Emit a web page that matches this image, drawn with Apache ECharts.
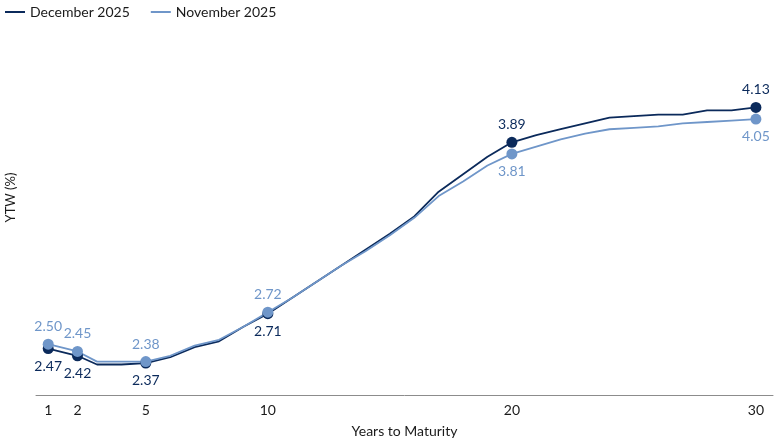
<!DOCTYPE html>
<html>
<head>
<meta charset="utf-8">
<script src="https://cdn.jsdelivr.net/npm/echarts@6/dist/echarts.min.js"></script>
<style>
html,body{margin:0;padding:0;background:#fff;}
#chart{width:780px;height:440px;}
</style>
</head>
<body>
<div id="chart"></div>
<script>
// Years to maturity (x positions)
var maturities = [1, 2.2, 3, 4, 5, 6, 7, 8, 9, 10, 11, 12, 13, 14, 15, 16, 17, 18, 19, 20, 21, 22, 23, 24, 25, 26, 27, 28, 29, 30];
var december2025 = [2.47, 2.42, 2.36, 2.36, 2.37, 2.41, 2.48, 2.52, 2.62, 2.71, 2.82, 2.93, 3.04, 3.15, 3.26, 3.38, 3.55, 3.67, 3.79, 3.89, 3.94, 3.98, 4.02, 4.06, 4.07, 4.08, 4.08, 4.11, 4.11, 4.13];
var november2025 = [2.50, 2.45, 2.38, 2.38, 2.38, 2.42, 2.49, 2.53, 2.62, 2.72, 2.82, 2.93, 3.04, 3.14, 3.25, 3.37, 3.52, 3.62, 3.73, 3.81, 3.86, 3.91, 3.95, 3.98, 3.99, 4.00, 4.02, 4.03, 4.04, 4.05];
// Labelled maturities (tick positions) and their tick labels
var tickValues = [1, 2.2, 5, 10, 20, 30];
var tickLabels = ['1', '2', '5', '10', '20', '30'];
var seriesNames = ['December 2025', 'November 2025'];

var DARK = '#0b2a5b';
var LIGHT = '#6f96c9';
var FONT = 'Lato';

function linePoints(vals) {
  return maturities.map(function (m, i) { return [m, vals[i]]; });
}
function markerPoints(vals, other) {
  var out = [];
  maturities.forEach(function (m, i) {
    if (tickValues.indexOf(m) >= 0) {
      var above = vals[i] >= other[i];
      out.push({ value: [m, vals[i]], label: { position: above ? 'top' : 'bottom' } });
    }
  });
  return out;
}

var chart = echarts.init(document.getElementById('chart'), null, { renderer: 'canvas' });
chart.setOption({
  animation: false,
  textStyle: { fontFamily: FONT },
  legend: {
    left: 0, top: 0,
    icon: 'rect', itemWidth: 20, itemHeight: 2, itemGap: 21,
    textStyle: { fontSize: 14, color: '#1a1a1a', fontFamily: FONT },
    data: seriesNames
  },
  grid: { left: 36, right: 7, top: 0, bottom: 45, containLabel: false, outerBoundsMode: 'none' },
  xAxis: {
    type: 'value',
    min: 0.5, max: 30.7,
    name: 'Years to Maturity',
    nameLocation: 'middle',
    nameGap: 29,
    nameTextStyle: { fontSize: 14, color: '#1a1a1a', fontFamily: FONT },
    axisLine: { show: true, lineStyle: { color: '#8c8c8c', width: 1 } },
    axisTick: { show: false, customValues: tickValues },
    splitLine: { show: false },
    axisLabel: {
      customValues: tickValues,
      fontSize: 14, color: '#1a1a1a', fontFamily: FONT, margin: 8,
      formatter: function (v) {
        var k = tickValues.indexOf(v);
        return k >= 0 ? tickLabels[k] : '';
      }
    }
  },
  yAxis: {
    type: 'value',
    min: 2.15, max: 4.87,
    name: 'YTW (%)',
    nameLocation: 'middle',
    nameGap: 19,
    nameTextStyle: { fontSize: 13, color: '#1a1a1a', fontFamily: FONT },
    axisLine: { show: false },
    axisTick: { show: false },
    axisLabel: { show: false },
    splitLine: { show: false }
  },
  series: [
    {
      name: seriesNames[0], type: 'line', data: linePoints(december2025),
      showSymbol: false, symbol: 'none',
      lineStyle: { color: DARK, width: 1.8 }, itemStyle: { color: DARK },
      z: 2
    },
    {
      name: seriesNames[1], type: 'line', data: linePoints(november2025),
      showSymbol: false, symbol: 'none',
      lineStyle: { color: LIGHT, width: 1.8 }, itemStyle: { color: LIGHT },
      z: 3
    },
    {
      name: seriesNames[0], type: 'scatter', data: markerPoints(december2025, november2025),
      symbol: 'circle', symbolSize: 11,
      itemStyle: { color: DARK, opacity: 1 },
      label: {
        show: true, fontSize: 14, color: DARK, fontFamily: FONT, distance: 5,
        formatter: function (p) { return p.value[1].toFixed(2); }
      },
      z: 4
    },
    {
      name: seriesNames[1], type: 'scatter', data: markerPoints(november2025, december2025),
      symbol: 'circle', symbolSize: 11,
      itemStyle: { color: LIGHT, opacity: 1 },
      label: {
        show: true, fontSize: 14, color: LIGHT, fontFamily: FONT, distance: 5,
        formatter: function (p) { return p.value[1].toFixed(2); }
      },
      z: 5
    }
  ]
});
</script>
</body>
</html>
